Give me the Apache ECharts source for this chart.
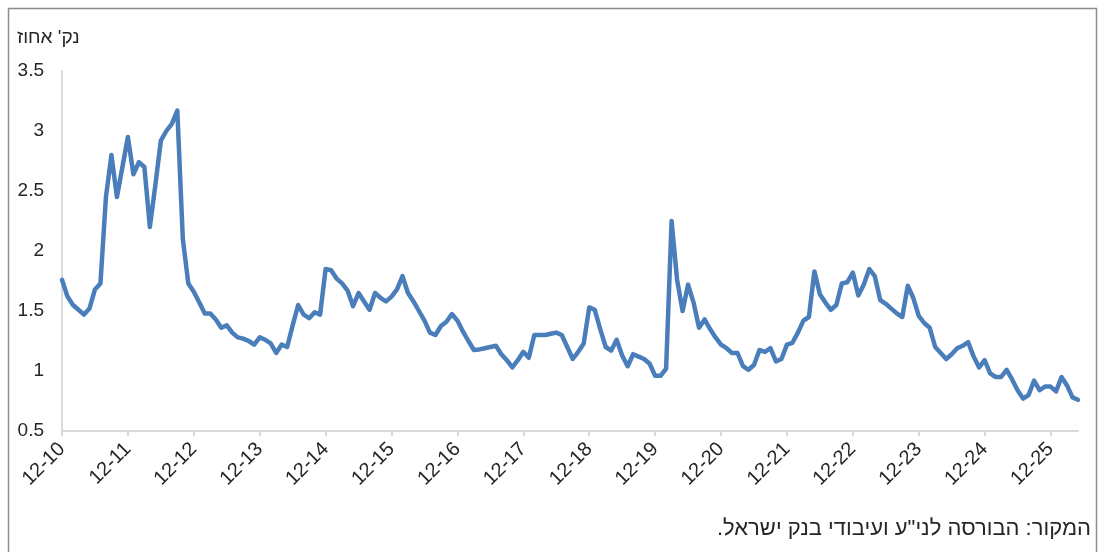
<!DOCTYPE html>
<html>
<head>
<meta charset="utf-8">
<script src="https://cdn.jsdelivr.net/npm/echarts@6/dist/echarts.min.js"></script>
<style>
html,body{margin:0;padding:0;background:#fff;}
#chart{width:1100px;height:552px;}
</style>
</head>
<body>
<div id="chart"></div>
<script>
// Monthly observations starting December 2010 (label format MM-YY)
const startMonth = 12;
const startYear = 10;
const yAxisTitle = "נק' אחוז";
const sourceNote = 'המקור: הבורסה לני"ע ועיבודי בנק ישראל.\u200F';

const values = [
  1.76, 1.62, 1.55, 1.51, 1.47, 1.52, 1.68, 1.73, 2.45, 2.80, 2.45, 2.70,
  2.95, 2.64, 2.74, 2.70, 2.20, 2.55, 2.92, 3.00, 3.06, 3.17, 2.10, 1.73,
  1.66, 1.57, 1.48, 1.48, 1.43, 1.36, 1.38, 1.32, 1.28, 1.27, 1.25, 1.22,
  1.28, 1.26, 1.23, 1.15, 1.22, 1.20, 1.38, 1.55, 1.47, 1.44, 1.49, 1.47,
  1.85, 1.84, 1.77, 1.73, 1.67, 1.54, 1.65, 1.58, 1.51, 1.65, 1.61, 1.58,
  1.62, 1.68, 1.79, 1.65, 1.58, 1.50, 1.42, 1.32, 1.30, 1.375, 1.41, 1.475,
  1.42, 1.33, 1.25, 1.175, 1.18, 1.19, 1.20, 1.21, 1.14, 1.09, 1.03, 1.09,
  1.16, 1.11, 1.30, 1.30, 1.30, 1.31, 1.32, 1.30, 1.20, 1.10, 1.16, 1.23,
  1.53, 1.51, 1.35, 1.20, 1.17, 1.26, 1.13, 1.04, 1.14, 1.12, 1.10, 1.06,
  0.96, 0.96, 1.02, 2.25, 1.76, 1.50, 1.72, 1.57, 1.36, 1.43, 1.35, 1.28,
  1.22, 1.19, 1.15, 1.15, 1.04, 1.01, 1.05, 1.175, 1.16, 1.19, 1.08, 1.10,
  1.22, 1.235, 1.32, 1.42, 1.45, 1.83, 1.64, 1.57, 1.51, 1.55, 1.73, 1.74,
  1.82, 1.63, 1.72, 1.85, 1.79, 1.59, 1.56, 1.52, 1.48, 1.45, 1.71, 1.61,
  1.46, 1.40, 1.36, 1.20, 1.15, 1.10, 1.14, 1.19, 1.21, 1.24, 1.12, 1.03,
  1.09, 0.98, 0.95, 0.95, 1.01, 0.93, 0.84, 0.77, 0.80, 0.92, 0.84, 0.87,
  0.87, 0.83, 0.95, 0.88, 0.78, 0.76
];

const categories = values.map((v, i) => {
  const m0 = (startMonth - 1) + i;
  const mm = (m0 % 12) + 1;
  const yy = startYear + Math.floor(m0 / 12);
  return String(mm).padStart(2, '0') + '-' + String(yy).padStart(2, '0');
});

const textColor = '#262626';
const axisColor = '#d9d9d9';
const font = '"Liberation Sans", Arial, "DejaVu Sans", sans-serif';

const chart = echarts.init(document.getElementById('chart'), null, {renderer: 'canvas'});
chart.setOption({
  animation: false,
  backgroundColor: '#fff',
  textStyle: {fontFamily: font},
  grid: {left: 62, right: 22, top: 71, bottom: 121, containLabel: false},
  graphic: [
    {type: 'rect', shape: {x: 8.5, y: 8.5, width: 1088, height: 560},
     style: {fill: 'none', stroke: '#8c8c8c', lineWidth: 1.5}, silent: true},
    {type: 'text', left: 17, top: 28,
     style: {text: yAxisTitle, fontSize: 19, fill: textColor, fontFamily: font}},
    {type: 'text', right: 9, top: 518,
     style: {text: sourceNote, fontSize: 22, fill: textColor, fontFamily: font}}
  ],
  xAxis: {
    type: 'category',
    data: categories,
    boundaryGap: false,
    axisLine: {show: true, lineStyle: {color: axisColor, width: 2}},
    axisTick: {show: true, interval: 11, length: 5, inside: false, lineStyle: {color: axisColor, width: 2}},
    axisLabel: {interval: 11, rotate: 45, fontSize: 20, color: textColor, margin: 15, fontFamily: font},
    splitLine: {show: false}
  },
  yAxis: {
    type: 'value',
    min: 0.5, max: 3.5, interval: 0.5,
    axisLine: {show: true, lineStyle: {color: axisColor, width: 2}},
    axisTick: {show: false},
    axisLabel: {fontSize: 19, color: textColor, margin: 18, fontFamily: font},
    splitLine: {show: false}
  },
  series: [{
    type: 'line',
    data: values,
    symbol: 'none',
    smooth: false,
    lineStyle: {color: '#4a7ebb', width: 4.5, cap: 'round', join: 'round'},
    itemStyle: {color: '#4a7ebb'}
  }]
});
</script>
</body>
</html>
